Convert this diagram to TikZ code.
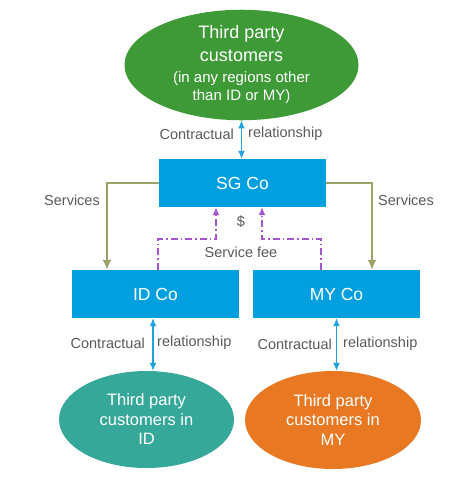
\documentclass[tikz,border=0pt]{standalone}
\usepackage{fontspec}
\setmainfont{Liberation Sans}
\usetikzlibrary{shapes.geometric,arrows.meta}
\definecolor{sgblue}{RGB}{0,159,223}
\definecolor{linkblue}{RGB}{30,163,224}
\definecolor{topgreen}{RGB}{62,154,54}
\definecolor{idteal}{RGB}{53,168,153}
\definecolor{myorange}{RGB}{232,120,34}
\definecolor{svcolive}{RGB}{158,161,104}
\definecolor{feepurple}{RGB}{165,85,205}
\definecolor{lblgray}{RGB}{89,89,89}

\begin{document}
\begin{tikzpicture}[x=1pt, y=-1pt, >={Latex[length=8pt,width=7pt]},
    cobox/.style={fill=sgblue, text=white, minimum width=167pt, minimum height=48pt,
      inner sep=0pt, font=\fontsize{17.5}{21}\selectfont},
    cust/.style={ellipse, text=white, inner sep=0pt, align=center,
      font=\fontsize{16.5}{19.5}\selectfont},
    lbl/.style={text=lblgray, inner sep=0pt, font=\fontsize{14.5}{17}\selectfont},
    contract/.style={<->, linkblue, line width=1.2pt},
    svc/.style={->, svcolive, line width=1.8pt, >={Latex[length=10pt,width=9pt]}},
    fee/.style={->, feepurple, line width=1.4pt,
      dash pattern=on 7pt off 3pt on 1.5pt off 3pt}]
    \useasboundingbox (0,0) rectangle (467,493);
    % customers
    \node[cust, fill=topgreen, minimum width=234pt, minimum height=90pt,
      font=\fontsize{18}{22.5}\selectfont] (tpc) at (241.5,65)
      {Third party\\ customers\\[-1pt] {\fontsize{15}{18}\selectfont (in any regions other}\\[-4.5pt]
       {\fontsize{15}{18}\selectfont than ID or MY)}};
    \node[cust, fill=idteal, minimum width=175pt, minimum height=97pt] (idc) at (146.5,419.5)
      {Third party\\ customers in\\ ID};
    \node[cust, fill=myorange, minimum width=176pt, minimum height=98pt] (myc) at (333,420)
      {Third party\\ customers in\\ MY};
    % companies
    \node[cobox] (sg) at (242.5,183) {SG Co};
    \node[cobox] (id) at (155.5,294) {ID Co};
    \node[cobox] (my) at (336.5,294) {MY Co};
    % contracts
    \draw[contract] (tpc.south) -- (tpc.south |- sg.north);
    \draw[contract] ([xshift=-2.5pt]id.south) -- ([xshift=-2.5pt]id.south |- idc.north);
    \draw[contract] (my.south) -- (my.south |- myc.north);
    \node[lbl, anchor=east] (tpcl) at (234,134) {Contractual};
    \node[lbl, anchor=west] (tpcr) at (248,134) {relationship};
    \node[lbl, anchor=east] (idcl) at (145,343) {Contractual};
    \node[lbl, anchor=west] (idcr) at (157,343) {relationship};
    \node[lbl, anchor=east] (mycl) at (332,344) {Contractual};
    \node[lbl, anchor=west] (mycr) at (343,344) {relationship};
    % services
    \draw[svc] (sg.west) -| ([xshift=-48.5pt]id.north);
    \draw[svc] (sg.east) -| ([xshift=35.5pt]my.north);
    \node[lbl] (svl) at (72,200) {Services};
    \node[lbl] (svr) at (406,200) {Services};
    % service fee
    \draw[fee] ([xshift=2.5pt]id.north) -- ++(0,-31) -| ([xshift=-26.5pt]sg.south);
    \draw[fee] ([xshift=-15.5pt]my.north) -- ++(0,-31) -| ([xshift=19.5pt]sg.south);
    \node[lbl] (usd) at (241,222) {\$};
    \node[lbl] (feel) at (241,252) {Service fee};
  \end{tikzpicture}
\end{document}
